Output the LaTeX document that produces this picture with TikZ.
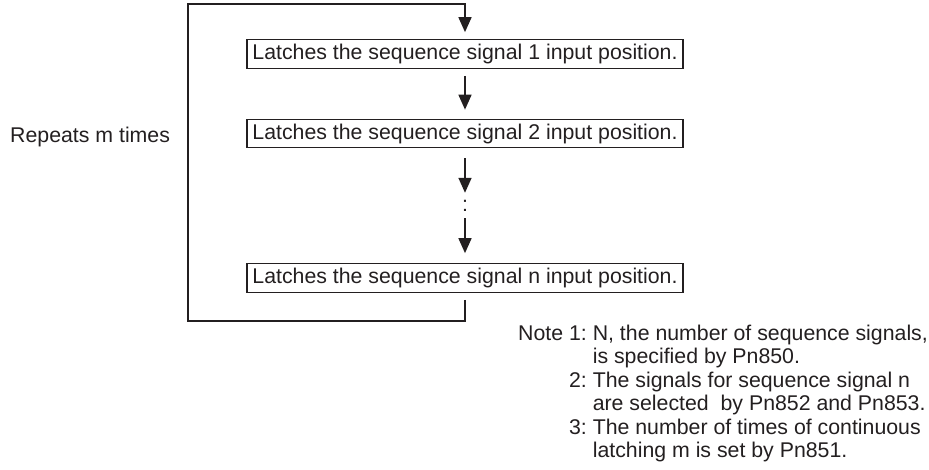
\documentclass[tikz,border=0pt]{standalone}
\usepackage{fontspec}
\setmainfont{Liberation Sans}
\usetikzlibrary{arrows.meta}
\definecolor{ink}{HTML}{231F20}

\begin{document}
\begin{tikzpicture}[x=1pt,y=-1pt,
    every node/.style={font=\fontsize{21.3}{23.4}\selectfont,text=ink,inner sep=0pt},
    latchbox/.style={draw=ink,line width=1.2pt,minimum width=436pt,minimum height=28.5pt},
    flow/.style={draw=ink,line width=1.6pt,-{Triangle[length=15pt,width=13pt]}},
    loopline/.style={draw=ink,line width=1.6pt}]
  \useasboundingbox (0,0) rectangle (929,470);
  \node[latchbox] (L1)   at (465,54)    {Latches the sequence signal 1 input position.};
  \node[latchbox] (L2)   at (465,133.5) {Latches the sequence signal 2 input position.};
  \node[minimum height=25pt] (dots) at (465,205.5) {:};
  \node[latchbox] (L3)   at (465,278)   {Latches the sequence signal n input position.};
  \node[anchor=base west] (rep) at (10,142.5) {Repeats m times};
  \node[anchor=base west] (note) at (518,340.5)
    {\begin{tabular}[t]{@{}r@{\ }l@{}}
       Note 1: & N, the number of sequence signals,\\
               & is specified by Pn850.\\
            2: & The signals for sequence signal n\\
               & are selected\ \ by Pn852 and Pn853.\\
            3: & The number of times of continuous\\
               & latching m is set by Pn851.
     \end{tabular}};
  \coordinate (tr) at (465,4);
  \coordinate (tl) at (188,4);
  \coordinate (bl) at (188,321);
  \coordinate (br) at (465,321);
  \draw[flow,shorten <=7pt,shorten >=9pt] (L1) -- (L2);
  \draw[flow,shorten <=10pt] (L2) -- (dots);
  \draw[flow,shorten >=10pt] (dots) -- (L3);
  \draw[flow,shorten <=7pt,shorten >=7pt] (L3.south) -- (br) -- (bl) -- (tl) -- (tr) -- (L1.north);
\end{tikzpicture}
\end{document}
